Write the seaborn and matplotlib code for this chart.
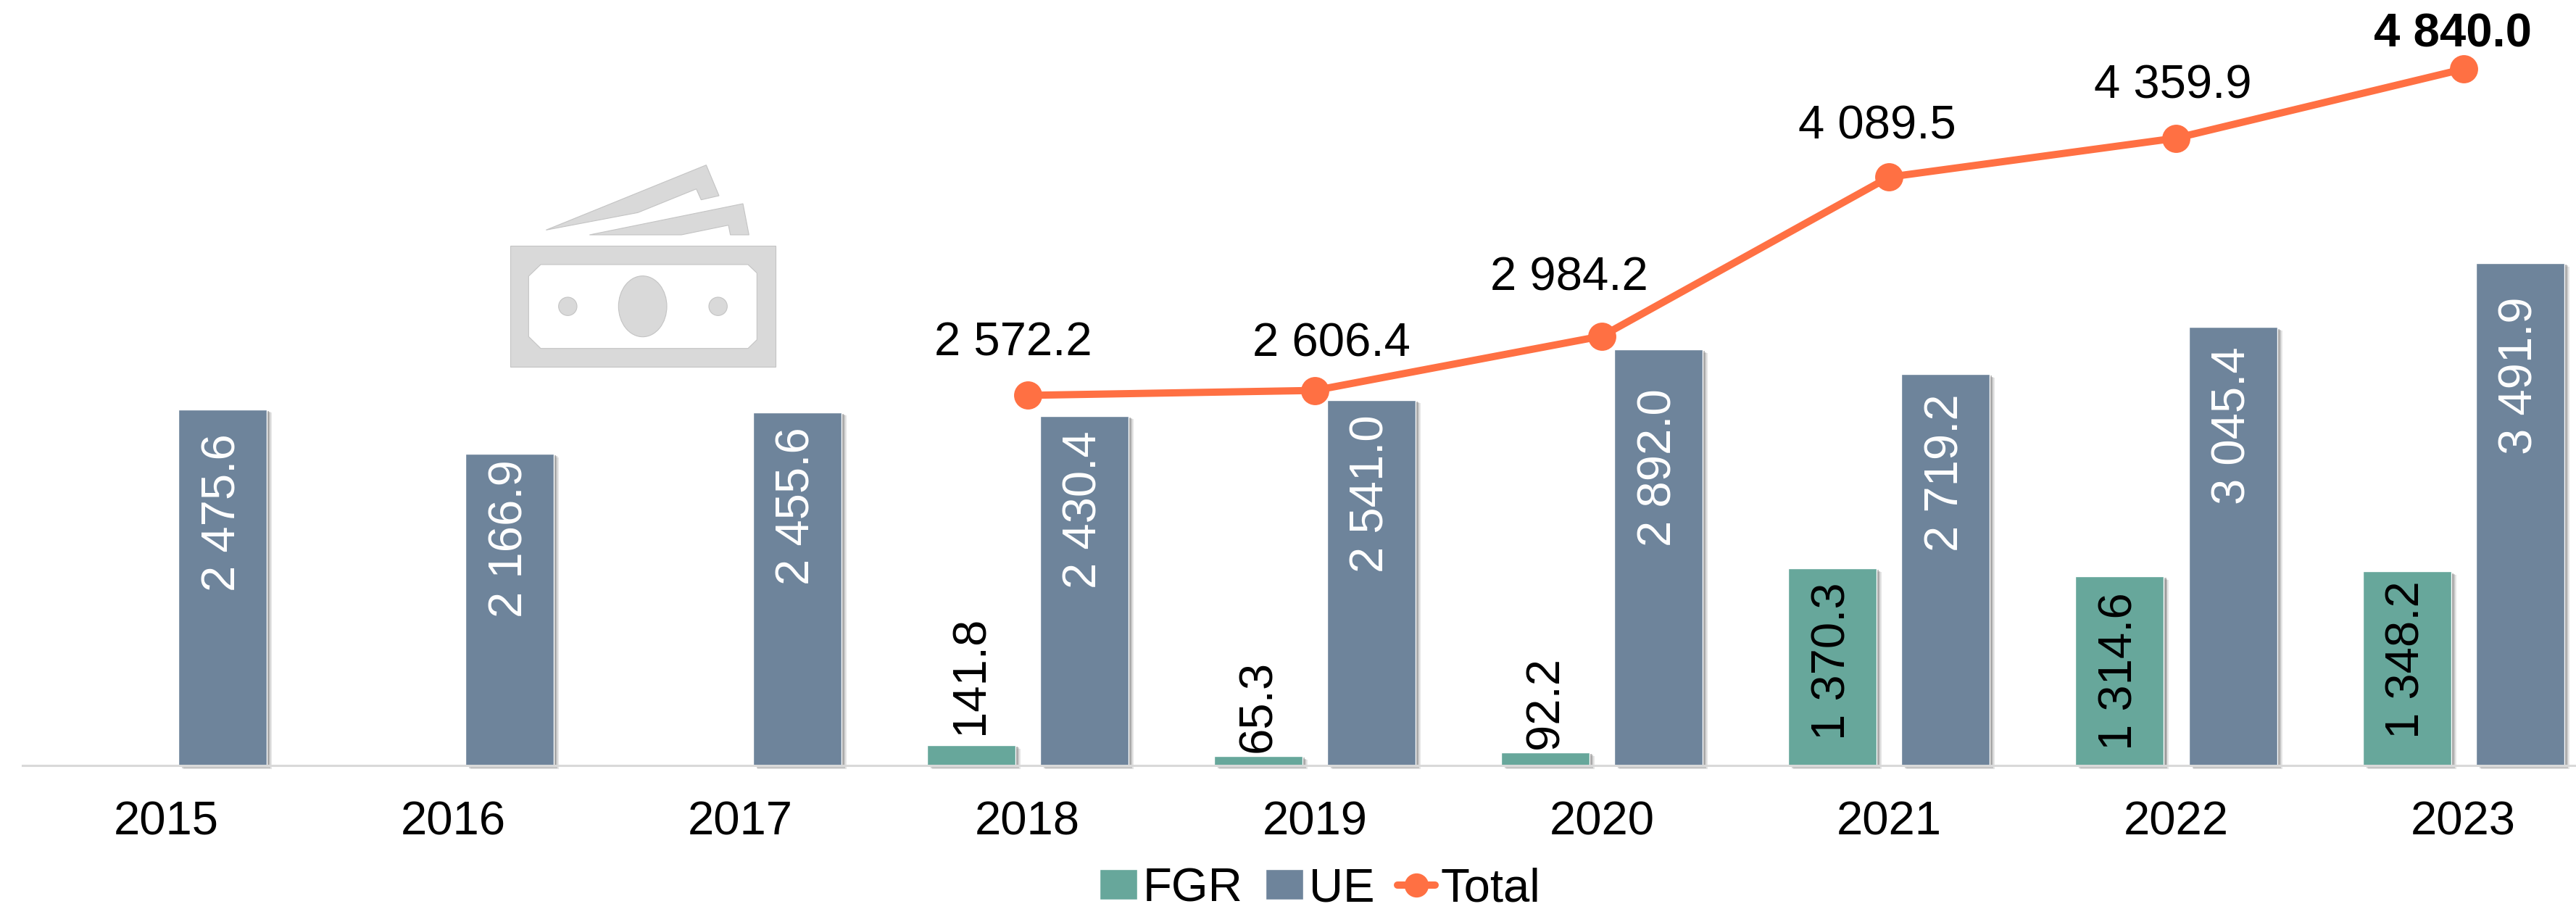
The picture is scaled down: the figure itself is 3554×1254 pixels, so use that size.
import numpy as np
import pandas as pd
import matplotlib
matplotlib.use("Agg")
import matplotlib.pyplot as plt
import matplotlib.patheffects as pe
from matplotlib.lines import Line2D
from matplotlib.patches import Patch, Polygon, Ellipse
import seaborn as sns

years = ["2015", "2016", "2017", "2018", "2019", "2020", "2021", "2022", "2023"]
fgr = [np.nan, np.nan, np.nan, 141.8, 65.3, 92.2, 1370.3, 1314.6, 1348.2]
ue = [2475.6, 2166.9, 2455.6, 2430.4, 2541.0, 2892.0, 2719.2, 3045.4, 3491.9]
total = [np.nan, np.nan, np.nan, 2572.2, 2606.4, 2984.2, 4089.5, 4359.9, 4840.0]

C_FGR, C_UE, C_TOTAL = "#67A79B", "#6E849B", "#FF7043"
W, H = 3554, 1254
FS = 47

sns.set_theme(style="white")
plt.rcParams["font.family"] = ["Liberation Sans", "DejaVu Sans"]


def fmt(v):
    return f"{v:,.1f}".replace(",", " ")


df = pd.DataFrame({
    "year": years * 2,
    "series": ["FGR"] * len(years) + ["UE"] * len(years),
    "value": fgr + ue,
})
pos = np.arange(len(years))

fig = plt.figure(figsize=(W / 100, H / 100), dpi=100, facecolor="white")
px_per_cat = 396.2
left = 31
base_y = 1056
ax = fig.add_axes([left / W, (H - base_y) / H, px_per_cat * 9 / W, base_y / H])
ax.patch.set_alpha(0)

sns.barplot(data=df, x="year", y="value", hue="series", order=years,
            hue_order=["FGR", "UE"], palette={"FGR": C_FGR, "UE": C_UE},
            width=0.788, gap=0.218, saturation=1, legend=False, ax=ax)
sns.lineplot(x=pos, y=total, color=C_TOTAL, linewidth=7.2, marker="o",
             markersize=28, markeredgewidth=0, markerfacecolor=C_TOTAL,
             legend=False, ax=ax, zorder=5)

ax.set_xlim(-0.5, 8.5)
ax.set_ylim(0, base_y / 0.1985)
ax.set_xlabel("")
ax.set_ylabel("")
ax.set_yticks([])
ax.set_xticks(pos, years)
ax.tick_params(axis="x", length=0, pad=35, labelsize=FS, labelcolor="black")
for s in ["top", "left", "right"]:
    ax.spines[s].set_visible(False)
ax.spines["bottom"].set_color("#D9D9D9")
ax.spines["bottom"].set_linewidth(2.2)

shadow = [pe.SimplePatchShadow(offset=(5, -3.5), shadow_rgbFace="#999999", alpha=0.25),
          pe.SimplePatchShadow(offset=(3.6, -2.6), shadow_rgbFace="#888888", alpha=0.35),
          pe.SimplePatchShadow(offset=(2.2, -1.6), shadow_rgbFace="#777777", alpha=0.5),
          pe.Normal()]
for cont in ax.containers:
    for p in cont.patches:
        p.set_path_effects(shadow)
        p.set_clip_on(False)

# bar labels: distance in pixels from the bar top to the text edge
fgr_off = {3: 15, 4: 5, 5: 5, 6: -19, 7: -22, 8: -13}
ue_off = [-34, -8, -21, -21, -21, -54, -27, -27, -47]

fgr_idx = [i for i, v in enumerate(fgr) if not np.isnan(v)]
fgr_patches = [p for p in ax.containers[0].patches if p.get_height() == p.get_height()]
fgr_patches = [p for p in fgr_patches if p.get_height() > 0][-len(fgr_idx):]
for p, i in zip(fgr_patches, fgr_idx):
    x = p.get_x() + p.get_width() / 2
    off = fgr_off[i]
    ax.annotate(fmt(fgr[i]), (x, fgr[i]), xytext=(0, off), textcoords="offset pixels",
                ha="center", va="bottom" if off > 0 else "top", rotation=90,
                fontsize=FS, color="black", annotation_clip=False)
for p, v, off in zip(ax.containers[1].patches, ue, ue_off):
    x = p.get_x() + p.get_width() / 2
    ax.annotate(fmt(v), (x, v), xytext=(0, off), textcoords="offset pixels",
                ha="center", va="top", rotation=90, fontsize=FS, color="white")

# total labels (pixel offsets from each marker)
dx = [-20, 23, -45, -16, -5, -15]
dy = [72, 64, 80, 70, 72, 48]
valid = [i for i, v in enumerate(total) if not np.isnan(v)]
for k, i in enumerate(valid):
    bold = i == len(years) - 1
    ax.annotate(fmt(total[i]), (pos[i], total[i]), xytext=(dx[k], dy[k]),
                textcoords="offset pixels", ha="center", va="center",
                fontsize=FS, color="black", zorder=6,
                fontweight="bold" if bold else "normal")

# legend
handles = [Patch(facecolor=C_FGR, label="FGR"), Patch(facecolor=C_UE, label="UE"),
           Line2D([0], [0], color=C_TOTAL, lw=7.2, marker="o", markersize=24,
                  markeredgewidth=0, label="Total")]
fig.legend(handles=handles, loc="center", bbox_to_anchor=(1821 / W, 1 - 1226 / H),
           ncol=3, frameon=False, fontsize=47, handlelength=0.8, handleheight=0.62,
           handletextpad=0.12, columnspacing=0.48, borderpad=0, labelcolor="black")

# decorative banknote icon, in figure pixels
ov = fig.add_axes([0, 0, 1, 1], zorder=-1)
ov.set_xlim(0, W)
ov.set_ylim(H, 0)
ov.axis("off")
G, E = "#D9D9D9", "#C4C4C4"


def z(pts):
    return [(640 + a / 3, 180 + b / 3) for a, b in pts]


kw = dict(facecolor=G, edgecolor=E, linewidth=0.8)
ov.add_patch(Polygon(z([(340, 412), (1003, 143), (1056, 270), (982, 287), (962, 242), (720, 340)]), **kw))
ov.add_patch(Polygon(z([(520, 432), (1155, 303), (1180, 432), (1103, 432), (1095, 392), (900, 432)]), **kw))
ov.add_patch(Polygon(z([(192, 478), (1290, 478), (1290, 977), (192, 977)]), **kw))
ov.add_patch(Polygon(z([(318, 555), (1176, 555), (1213, 590), (1213, 866), (1176, 902),
                        (318, 902), (268, 853), (268, 603)]),
                     facecolor="white", edgecolor=E, linewidth=0.8))
ov.add_patch(Ellipse((640 + 740 / 3, 180 + 728 / 3), 200 / 3, 252 / 3, **kw))
ov.add_patch(Ellipse((640 + 430 / 3, 180 + 728 / 3), 76 / 3, 76 / 3, **kw))
ov.add_patch(Ellipse((640 + 1052 / 3, 180 + 728 / 3), 76 / 3, 76 / 3, **kw))

fig.savefig("out.png", dpi=100, facecolor="white")
